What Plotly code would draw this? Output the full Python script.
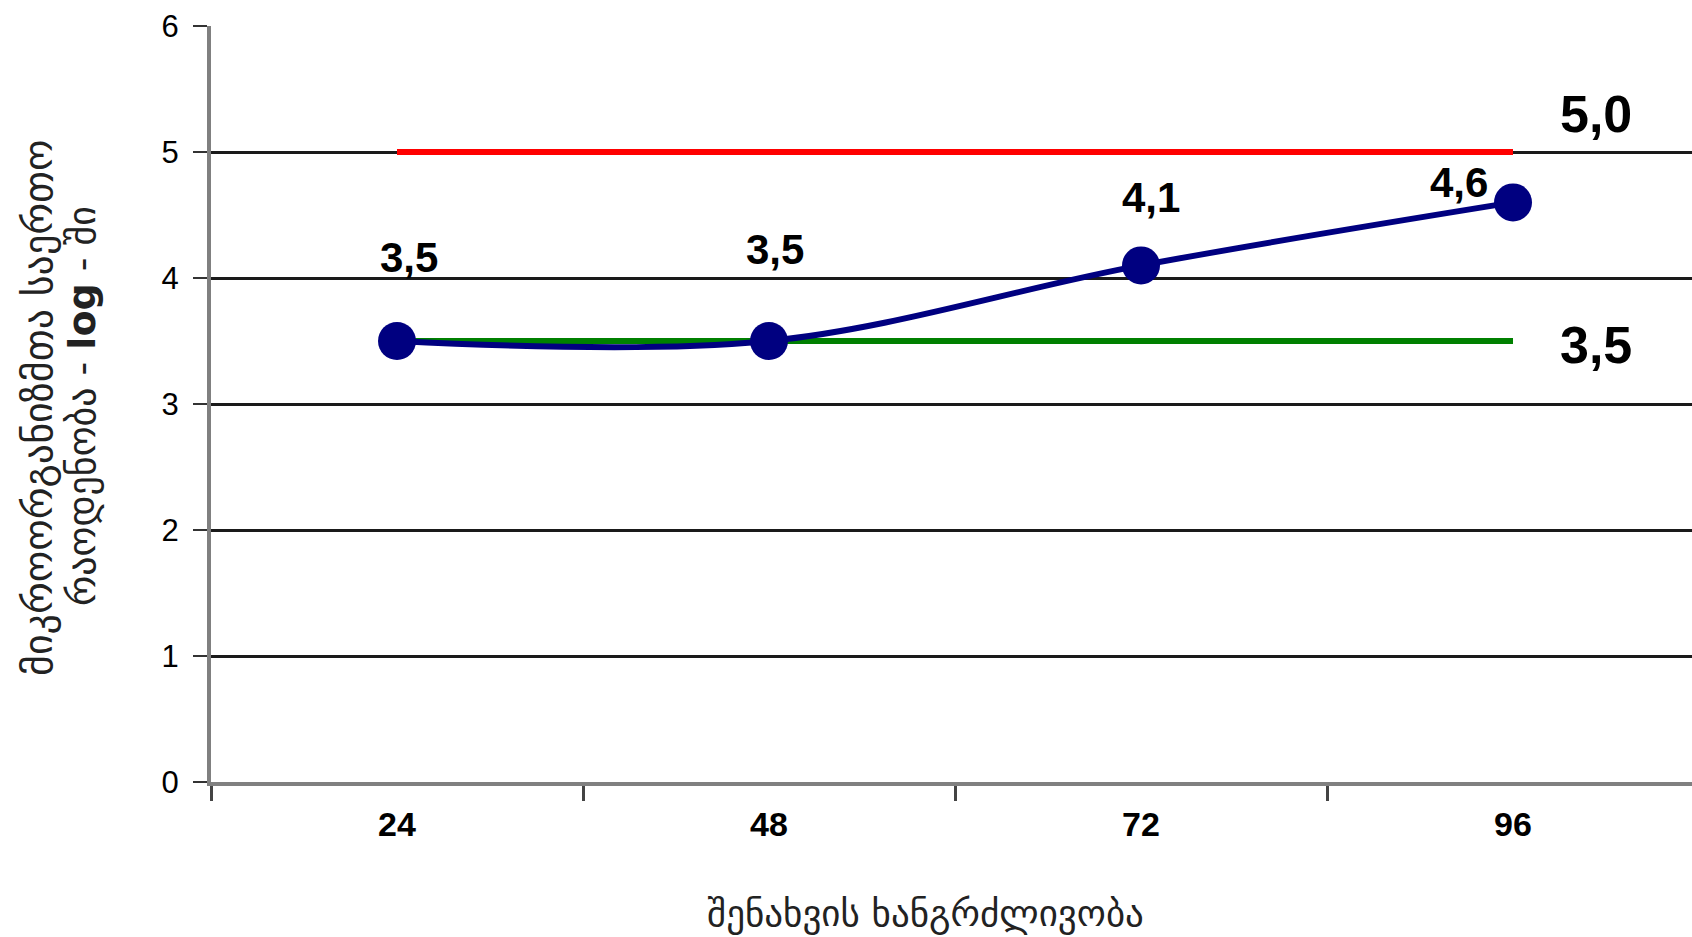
import plotly.graph_objects as go

# Storage duration (hours) and measured microbial counts (log CFU)
hours = ["24", "48", "72", "96"]
counts = [3.5, 3.5, 4.1, 4.6]
upper_limit = [5.0, 5.0, 5.0, 5.0]
lower_limit = [3.5, 3.5, 3.5, 3.5]
y_ticks = [0, 1, 2, 3, 4, 5, 6]

# Label offsets in pixels (dx, dy) for the value labels above each point
label_offsets = [(12, 84), (6, 92), (10, 68), (-54, 20)]

NUM_FONT = "Liberation Sans, Arial, sans-serif"
GEO_FONT = "DejaVu Sans, sans-serif"

W, H = 1692, 937
L, R, T, B = 211, 0, 26, 155
plot_w = W - L - R
plot_h = H - T - B


def px_x(x):
    return (x - L) / plot_w


def px_y(y):
    return (H - B - y) / plot_h


def fmt(v):
    return f"{v:.1f}".replace(".", ",")


fig = go.Figure()

fig.add_trace(go.Scatter(
    x=hours, y=upper_limit, mode="lines",
    line=dict(color="#ff0000", width=6), hoverinfo="skip",
))
fig.add_trace(go.Scatter(
    x=hours, y=lower_limit, mode="lines",
    line=dict(color="#008000", width=6), hoverinfo="skip",
))
fig.add_trace(go.Scatter(
    x=hours, y=counts, mode="lines+markers",
    line=dict(color="#000080", width=6, shape="spline", smoothing=1),
    marker=dict(color="#000080", size=38),
))

annotations = []
# category axes place annotations by category index
for i, (v, (dx, dy)) in enumerate(zip(counts, label_offsets)):
    annotations.append(dict(
        x=i, y=v, xref="x", yref="y", text=f"<b>{fmt(v)}</b>",
        showarrow=False, xshift=dx, yshift=dy,
        font=dict(family=NUM_FONT, size=42, color="#000"),
    ))

# Limit values written to the right of the reference lines
last = len(hours) - 1
annotations.append(dict(
    x=last, y=upper_limit[-1], xref="x", yref="y",
    text=f"<b>{fmt(upper_limit[-1])}</b>", showarrow=False,
    xshift=83, yshift=38, font=dict(family=NUM_FONT, size=52, color="#000"),
))
annotations.append(dict(
    x=last, y=lower_limit[-1], xref="x", yref="y",
    text=f"<b>{fmt(lower_limit[-1])}</b>", showarrow=False,
    xshift=83, yshift=-4, font=dict(family=NUM_FONT, size=52, color="#000"),
))

# Axis titles
annotations.append(dict(
    x=px_x(925), y=px_y(913), xref="paper", yref="paper",
    text="შენახვის ხანგრძლივობა", showarrow=False,
    xanchor="center", yanchor="middle",
    font=dict(family=GEO_FONT, size=37, color="#222"),
))
annotations.append(dict(
    x=px_x(38), y=px_y(408), xref="paper", yref="paper",
    text="მიკროორგანიზმთა საერთო", showarrow=False, textangle=-90,
    xanchor="center", yanchor="middle",
    font=dict(family=GEO_FONT, size=40, color="#222"),
))
annotations.append(dict(
    x=px_x(82), y=px_y(406), xref="paper", yref="paper",
    text="რაოდენობა - <b>log</b> - ში", showarrow=False, textangle=-90,
    xanchor="center", yanchor="middle",
    font=dict(family=GEO_FONT, size=38, color="#222"),
))

fig.update_layout(
    width=W, height=H,
    margin=dict(l=L, r=R, t=T, b=B, pad=0),
    paper_bgcolor="white", plot_bgcolor="white",
    showlegend=False,
    annotations=annotations,
    xaxis=dict(
        type="category", range=[-0.5, -0.5 + plot_w / 372.0],
        tickson="boundaries", ticks="outside", ticklen=15, tickwidth=3,
        tickcolor="#444", showgrid=False, zeroline=False,
        showline=True, linecolor="#808080", linewidth=4,
        tickfont=dict(family=NUM_FONT, size=34, color="#000", weight="bold"),
        ticklabelstandoff=9,
    ),
    yaxis=dict(
        range=[0, 6], tickvals=y_ticks, ticktext=[str(t) for t in y_ticks],
        ticks="outside", ticklen=14, tickwidth=2, tickcolor="#333",
        showgrid=True, gridcolor="#1a1a1a", gridwidth=2.5, zeroline=False,
        showline=True, linecolor="#808080", linewidth=4,
        tickfont=dict(family=NUM_FONT, size=31, color="#000"),
        ticklabelstandoff=8,
    ),
)

fig.write_html("out.html")
